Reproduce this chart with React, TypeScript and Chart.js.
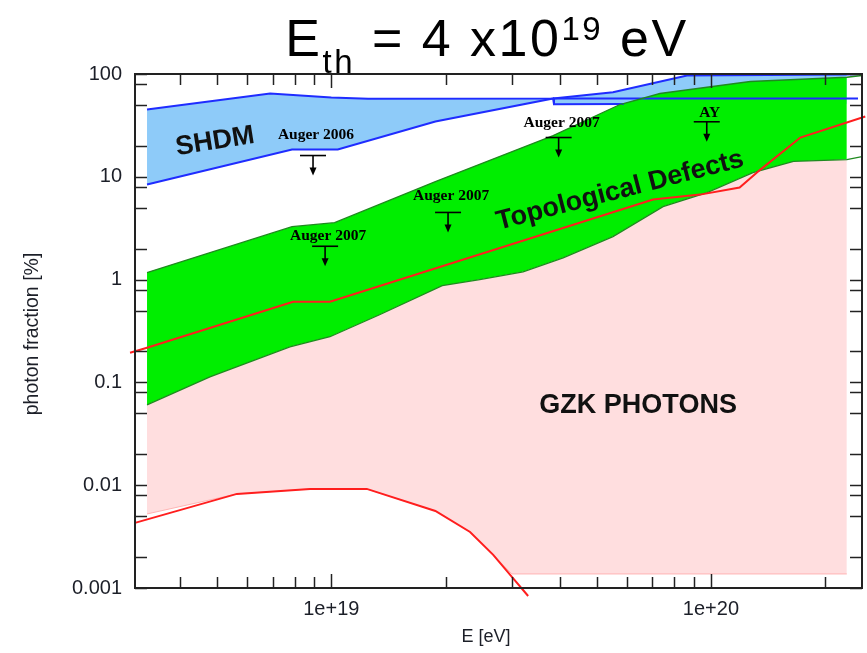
import React, { useEffect, useRef } from 'react';
import { Chart, registerables } from 'chart.js';

Chart.register(...registerables);

const SANS = '"Liberation Sans", Arial, Helvetica, sans-serif';
const SERIF = '"Liberation Serif", "Times New Roman", serif';
const INK = '#1c1f28';

// Axis ranges: energy [eV] and photon fraction [%]
const E_MIN = 3.04e18;
const E_MAX = 2.5e20;
const F_MIN = 0.001;
const F_MAX = 100;
// Shaded model bands stop a little short of the right frame
const FILL_END = 2.28e20;
// The lower SHDM edge is only drawn until it meets the TD band
const SHDM_EDGE_END = 5.9e19;

const E_TICKS = [1e19, 1e20];
const E_TICK_LABELS = ['1e+19', '1e+20'];
const E_MINOR = [4e18, 5e18, 6e18, 7e18, 8e18, 9e18, 2e19, 3e19, 4e19, 5e19, 6e19, 7e19, 8e19, 9e19, 2e20];
const F_TICKS = [0.001, 0.01, 0.1, 1, 10, 100];
const F_TICK_LABELS = ['0.001', '0.01', '0.1', '1', '10', '100'];
const F_MINOR = [0.002, 0.005, 0.008, 0.02, 0.05, 0.08, 0.2, 0.5, 0.8, 2, 5, 8, 20, 50, 80];

type Pair = [number, number];

// Super-heavy dark matter band
const SHDM_TOP: Pair[] = [
  [3.27e18, 45.1], [6.9e18, 64.6], [1.0e19, 59.0], [1.25e19, 57.3], [3.84e19, 57.7],
  [5.52e19, 66.5], [8.65e19, 96.7], [2.28e20, 98.9], [2.44e20, 99.3],
];
const SHDM_BOTTOM: Pair[] = [
  [3.27e18, 8.4], [7.88e18, 18.4], [1.04e19, 18.4], [1.88e19, 34.5], [3.84e19, 57.7],
  [3.86e19, 50.8], [5.9e19, 51.2], [2.28e20, 51.4],
];
const SHDM_CAP: Pair[] = [[3.84e19, 57.7], [2.44e20, 57.7]];

// Topological defects band
const TD_UPPER: Pair[] = [
  [3.27e18, 1.17], [7.88e18, 3.27], [1.02e19, 3.58], [1.88e19, 8.98], [3.84e19, 25.2],
  [5.76e19, 50.5], [7.34e19, 64.6], [1.27e20, 84.5], [2.28e20, 93.0], [2.5e20, 96.7],
];
const TD_LOWER: Pair[] = [
  [3.27e18, 0.0605], [4.79e18, 0.113], [7.78e18, 0.222], [9.92e18, 0.278], [1.34e19, 0.455],
  [1.96e19, 0.872], [2.46e19, 1.0], [3.2e19, 1.19], [4.08e19, 1.63], [5.52e19, 2.62],
  [7.48e19, 5.13], [9.77e19, 7.02], [1.29e20, 11.0], [1.65e20, 14.1], [2.28e20, 14.7], [2.5e20, 15.7],
];

// GZK photon region
const GZK_FLOOR: Pair[] = [
  [3.27e18, 0.00525], [5.64e18, 0.00823], [8.79e18, 0.0092], [1.24e19, 0.0092], [1.88e19, 0.00562],
  [2.32e19, 0.00351], [2.67e19, 0.0021], [2.99e19, 0.00137], [2.28e20, 0.00137],
];
const GZK_HIGH: Pair[] = [
  [2.95e18, 0.194], [3.27e18, 0.217], [7.93e18, 0.609], [9.92e18, 0.609], [7.04e19, 6.0],
  [9.36e19, 6.71], [1.19e20, 7.85], [1.35e20, 11.75], [1.72e20, 24.1], [2.55e20, 38.6],
];
const GZK_LOW: Pair[] = [
  [3.04e18, 0.0043], [5.64e18, 0.00823], [8.79e18, 0.0092], [1.24e19, 0.0092], [1.88e19, 0.00562],
  [2.32e19, 0.00351], [2.67e19, 0.0021], [2.99e19, 0.00128], [3.3e19, 0.000836],
];

// Experimental upper limits
const LIMIT_NAMES = ['Auger 2006', 'Auger 2007', 'Auger 2007', 'Auger 2007', 'AY'];
const LIMIT_E = [8.95e18, 9.63e18, 2.03e19, 3.97e19, 9.75e19];
const LIMIT_F = [16.1, 2.11, 4.5, 24.1, 34.3];
// distance from each limit bar up to its caption baseline (px)
const LIMIT_GAP = [17, 6, 12, 11, 5];

// Region names, anchored in data coordinates
const REGION_NAMES = ['SHDM', 'Topological Defects', 'GZK PHOTONS'];
const REGION_E = [4.94e18, 5.76e19, 6.43e19];
const REGION_F = [22.0, 7.34, 0.0592];
const REGION_ANGLE = [-9, -14.5, 0];

const pts = (arr: Pair[]) => arr.map(([x, y]) => ({ x, y }));
const upTo = (arr: Pair[], lim: number) => arr.filter(([x]) => x <= lim);
const NONE = 'rgba(0,0,0,0)';

const curve = (data: Pair[], color: string, width: number, order: number, extra: any = {}) => ({
  data: pts(data),
  borderColor: color,
  borderWidth: width,
  pointRadius: 0,
  fill: false,
  tension: 0,
  order,
  ...extra,
});

const decorations = {
  id: 'decorations',
  afterDatasetsDraw(chart: any) {
    const { ctx, chartArea: a, scales } = chart;
    const x = scales.x;
    const y = scales.y;
    ctx.save();

    // inward tick marks on all four sides
    ctx.strokeStyle = '#222';
    ctx.lineWidth = 1.5;
    const seg = (x0: number, y0: number, x1: number, y1: number) => {
      ctx.beginPath();
      ctx.moveTo(x0, y0);
      ctx.lineTo(x1, y1);
      ctx.stroke();
    };
    const xTick = (v: number, len: number) => {
      const px = Math.round(x.getPixelForValue(v)) + 0.5;
      seg(px, a.bottom, px, a.bottom - len);
      seg(px, a.top, px, a.top + len);
    };
    const yTick = (v: number, len: number) => {
      const py = Math.round(y.getPixelForValue(v)) + 0.5;
      seg(a.left, py, a.left + len, py);
      seg(a.right, py, a.right - len, py);
    };
    E_TICKS.forEach((v) => xTick(v, 14));
    E_MINOR.forEach((v) => xTick(v, 11));
    F_TICKS.forEach((v) => yTick(v, 12));
    F_MINOR.forEach((v) => yTick(v, 12));

    // frame
    ctx.lineWidth = 2;
    ctx.strokeRect(a.left, a.top, a.right - a.left, a.bottom - a.top);

    // upper-limit markers
    ctx.strokeStyle = '#000';
    ctx.fillStyle = '#000';
    LIMIT_E.forEach((e, i) => {
      const px = x.getPixelForValue(e);
      const py = y.getPixelForValue(LIMIT_F[i]);
      ctx.lineWidth = 1.6;
      seg(px - 13, py, px + 13, py);
      seg(px, py, px, py + 14);
      ctx.beginPath();
      ctx.moveTo(px - 3.5, py + 12);
      ctx.lineTo(px + 3.5, py + 12);
      ctx.lineTo(px, py + 20);
      ctx.closePath();
      ctx.fill();
      ctx.font = `bold 15.5px ${SERIF}`;
      ctx.textAlign = 'center';
      ctx.textBaseline = 'alphabetic';
      ctx.fillText(LIMIT_NAMES[i], px + 3, py - LIMIT_GAP[i]);
    });

    // region names
    REGION_NAMES.forEach((name, i) => {
      const px = x.getPixelForValue(REGION_E[i]);
      const py = y.getPixelForValue(REGION_F[i]);
      ctx.save();
      ctx.translate(px, py);
      ctx.rotate((REGION_ANGLE[i] * Math.PI) / 180);
      ctx.font = `bold 27px ${SANS}`;
      ctx.textAlign = 'center';
      ctx.textBaseline = 'middle';
      ctx.fillStyle = '#111';
      ctx.fillText(name, 0, 0);
      ctx.restore();
    });
    ctx.restore();
  },
  afterDraw(chart: any) {
    const { ctx } = chart;
    ctx.save();
    // title: E_th = 4 x10^19 eV
    const parts = [
      { t: 'E', size: 52, dy: 0 },
      { t: 'th', size: 33, dy: 17 },
      { t: ' = 4 x10', size: 52, dy: 0 },
      { t: '19', size: 33, dy: -16 },
      { t: ' eV', size: 52, dy: 0 },
    ];
    (ctx as any).letterSpacing = '2.5px';
    let total = 0;
    const widths = parts.map((p) => {
      ctx.font = `${p.size}px ${SANS}`;
      const w = ctx.measureText(p.t).width;
      total += w;
      return w;
    });
    let cx = 487 - total / 2;
    ctx.fillStyle = '#000';
    ctx.textAlign = 'left';
    ctx.textBaseline = 'alphabetic';
    parts.forEach((p, i) => {
      ctx.font = `${p.size}px ${SANS}`;
      ctx.fillText(p.t, cx, 56 + p.dy);
      cx += widths[i];
    });
    (ctx as any).letterSpacing = '0px';

    // axis titles
    ctx.fillStyle = INK;
    ctx.textAlign = 'center';
    ctx.textBaseline = 'middle';
    ctx.font = `18px ${SANS}`;
    ctx.fillText('E [eV]', 486, 637);
    ctx.font = `19.5px ${SANS}`;
    ctx.translate(33, 334);
    ctx.rotate(-Math.PI / 2);
    ctx.fillText('photon fraction [%]', 0, 0);
    ctx.restore();
  },
};

export default function App() {
  const canvasRef = useRef<HTMLCanvasElement | null>(null);

  useEffect(() => {
    const canvas = canvasRef.current;
    if (!canvas) return;
    const chart = new Chart(canvas, {
      type: 'line',
      data: {
        datasets: [
          // filled bands (drawn first)
          curve(upTo(SHDM_TOP, FILL_END), NONE, 0, 20, { fill: { target: 1 }, backgroundColor: '#8ecbf9' }),
          curve(upTo(SHDM_BOTTOM, FILL_END), NONE, 0, 19),
          curve(upTo(TD_UPPER, FILL_END), NONE, 0, 18, { fill: { target: 3 }, backgroundColor: '#00ee00' }),
          curve(upTo(TD_LOWER, FILL_END), NONE, 0, 17),
          curve(GZK_FLOOR, '#ffb4b4', 1, 16, { fill: { target: 3 }, backgroundColor: '#ffdedf' }),
          // model boundaries
          curve(SHDM_TOP, '#1f2cff', 2, 10),
          curve(upTo(SHDM_BOTTOM, SHDM_EDGE_END), '#1f2cff', 2, 9),
          curve(SHDM_CAP, '#1f2cff', 2, 8),
          curve(TD_UPPER, '#1f8a1f', 1.3, 7),
          curve(TD_LOWER, '#1f8a1f', 1.3, 6),
          curve(GZK_HIGH, '#ff1e1e', 2, 2, { clip: false }),
          curve(GZK_LOW, '#ff1e1e', 2, 1, { clip: false }),
        ] as any,
      },
      options: {
        responsive: false,
        animation: false,
        devicePixelRatio: 1,
        events: [],
        layout: { padding: { top: 74, right: 5, left: 0, bottom: 0 } },
        plugins: { legend: { display: false }, tooltip: { enabled: false }, title: { display: false } },
        scales: {
          x: {
            type: 'logarithmic',
            min: E_MIN,
            max: E_MAX,
            grid: { display: false, drawTicks: false },
            border: { display: false },
            afterBuildTicks: (s: any) => {
              s.ticks = E_TICKS.map((value) => ({ value }));
            },
            afterFit: (s: any) => {
              s.height = 65;
            },
            ticks: {
              autoSkip: false,
              maxRotation: 0,
              padding: 9,
              color: INK,
              font: { family: SANS, size: 20 },
              callback: (v: any) => {
                const i = E_TICKS.indexOf(Number(v));
                return i >= 0 ? E_TICK_LABELS[i] : '';
              },
            },
          },
          y: {
            type: 'logarithmic',
            min: F_MIN,
            max: F_MAX,
            grid: { display: false, drawTicks: false },
            border: { display: false },
            afterBuildTicks: (s: any) => {
              s.ticks = F_TICKS.map((value) => ({ value }));
            },
            afterFit: (s: any) => {
              s.width = 135;
            },
            ticks: {
              autoSkip: false,
              padding: 13,
              color: INK,
              font: { family: SANS, size: 20 },
              callback: (v: any) => {
                const i = F_TICKS.indexOf(Number(v));
                return i >= 0 ? F_TICK_LABELS[i] : '';
              },
            },
          },
        },
      } as any,
      plugins: [decorations],
    });
    return () => chart.destroy();
  }, []);

  return (
    <div style={{ position: 'absolute', left: 0, top: 0, width: 867, height: 653, background: '#fff' }}>
      <canvas ref={canvasRef} width={867} height={653} style={{ display: 'block' }} />
    </div>
  );
}
